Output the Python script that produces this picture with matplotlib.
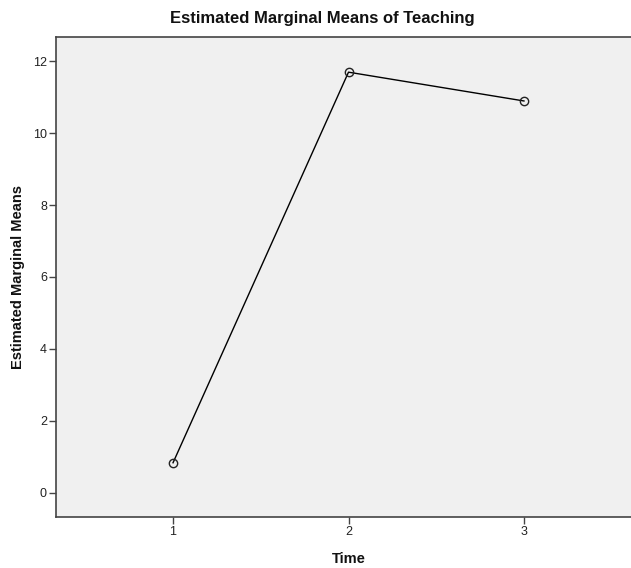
import matplotlib
matplotlib.use("Agg")
import matplotlib.pyplot as plt

time_levels = [1, 2, 3]
means = [0.84, 11.69, 10.89]
y_ticks = [0, 2, 4, 6, 8, 10, 12]
x_ticks = [1, 2, 3]

plt.rcParams['font.family'] = ['Liberation Sans', 'DejaVu Sans']

W, H = 631, 568
fig = plt.figure(figsize=(W / 100, H / 100), dpi=100)
left, right, top, bottom = 56, 641, 37, 517
ax = fig.add_axes([left / W, 1 - bottom / H, (right - left) / W, (bottom - top) / H])
ax.set_facecolor('#F0F0F0')

ax.plot(time_levels, means, color='black', lw=1.0, marker='o', markersize=6,
        markerfacecolor='none', markeredgecolor='#222222', markeredgewidth=1.0)

ax.set_xlim(1 - 0.667, 3 + 0.667)
ax.set_ylim(-0.667, 12.667)
ax.set_xticks(x_ticks)
ax.set_xticklabels([str(v) for v in x_ticks])
ax.set_yticks(y_ticks)
ax.set_yticklabels([str(v) for v in y_ticks])

for s in ['left', 'bottom', 'top', 'right']:
    ax.spines[s].set_color('#444444')
    ax.spines[s].set_linewidth(1.2)
ax.tick_params(axis='both', direction='out', length=5, width=1.0, color='#444444',
               labelsize=9, labelcolor='#222222', pad=1.5)

fig.text(322 / W, 1 - 18 / H, 'Estimated Marginal Means of Teaching', ha='center', va='center',
         fontsize=12, fontweight='bold', color='#111111')
fig.text(349 / W, 1 - 559 / H, 'Time', ha='center', va='center',
         fontsize=10.5, fontweight='bold', color='#111111')
fig.text(18 / W, 1 - 277 / H, 'Estimated Marginal Means', rotation=90, ha='center', va='center',
         fontsize=10.5, fontweight='bold', color='#111111')

fig.savefig('out.png', dpi=100, facecolor='white')
